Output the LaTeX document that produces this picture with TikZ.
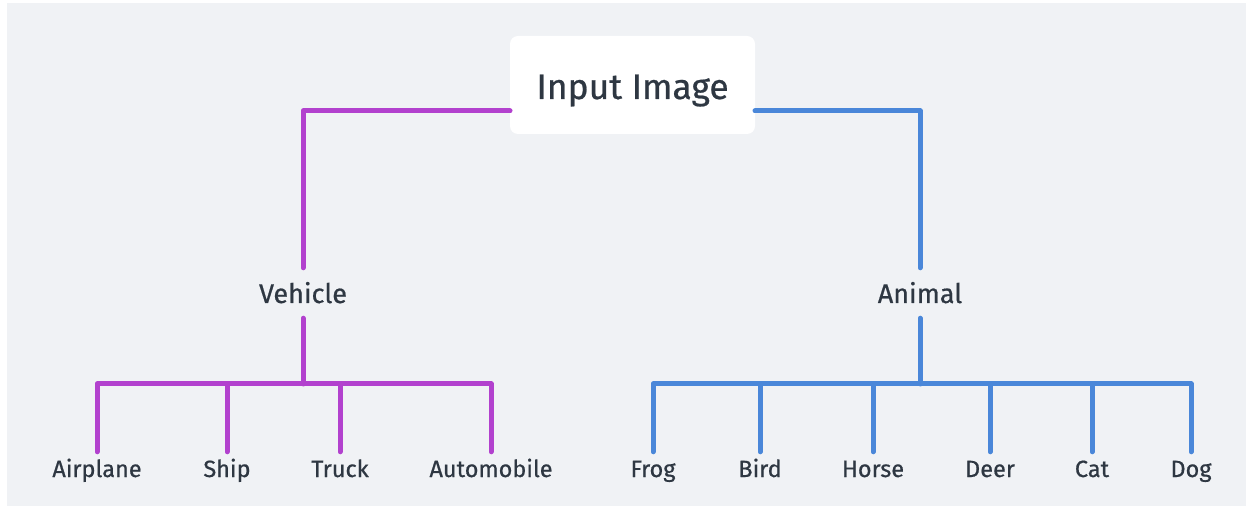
\documentclass[tikz,border=0pt]{standalone}
\usepackage{fontspec}
\setmainfont{Fira Sans}
\newfontfamily\labelfont{Fira Sans}[FakeBold=0.6]
\definecolor{panel}{HTML}{F0F2F5}
\definecolor{ink}{HTML}{2E3742}
\definecolor{vehiclecol}{HTML}{B241CE}
\definecolor{animalcol}{HTML}{4A87D9}
\tikzset{
  rootbox/.style={fill=white, rounded corners=8pt, minimum width=245pt, minimum height=98pt,
    inner sep=0pt, text height=28pt, text depth=0pt, text=ink,
    font=\labelfont\fontsize{35.5}{40}\selectfont},
  midlabel/.style={anchor=base, inner xsep=0pt, inner ysep=14pt, text height=21pt, text depth=1pt,
    text=ink, font=\labelfont\fontsize{27}{30}\selectfont},
  leaflabel/.style={anchor=base, inner xsep=0pt, inner ysep=9pt, text height=16pt, text depth=6pt,
    text=ink, font=\labelfont\fontsize{23.5}{27}\selectfont},
  branch/.style={line width=5pt, line cap=round, line join=round},
}
\begin{document}
\begin{tikzpicture}[x=1pt, y=-1pt]
  \useasboundingbox (0,0) rectangle (1253,510);
  \fill[panel] (7,3) rectangle (1246,506);

  % root and the two categories
  \node[rootbox] (root) at (632.5,85) {Input Image};
  \node[midlabel] (vehicle) at (303,303) {Vehicle};
  \node[midlabel] (animal) at (920,303) {Animal};

  % junction points of the branches
  \coordinate (rootL) at (510,111);
  \coordinate (rootR) at (755,111);
  \coordinate (vbus) at (303,384);
  \coordinate (abus) at (920,384);

  % leaves
  \node[leaflabel] (airplane) at (97,477) {Airplane};
  \node[leaflabel] (ship) at (227,477) {Ship};
  \node[leaflabel] (truck) at (340,477) {Truck};
  \node[leaflabel] (automobile) at (491,477) {Automobile};

  \node[leaflabel] (frog) at (653,477) {Frog};
  \node[leaflabel] (bird) at (760,477) {Bird};
  \node[leaflabel] (horse) at (873,477) {Horse};
  \node[leaflabel] (deer) at (990,477) {Deer};
  \node[leaflabel] (cat) at (1092,477) {Cat};
  \node[leaflabel] (dog) at (1191,477) {Dog};

  % vehicle branch
  \draw[branch, vehiclecol] (rootL) -| (vehicle.north);
  \draw[branch, vehiclecol] (vehicle.south) -- (vbus);
  \foreach \leaf in {airplane,ship,truck,automobile}
    \draw[branch, vehiclecol] (vbus) -| (\leaf.north);

  % animal branch
  \draw[branch, animalcol] (rootR) -| (animal.north);
  \draw[branch, animalcol] (animal.south) -- (abus);
  \foreach \leaf in {frog,bird,horse,deer,cat,dog}
    \draw[branch, animalcol] (abus) -| (\leaf.north);
\end{tikzpicture}
\end{document}
